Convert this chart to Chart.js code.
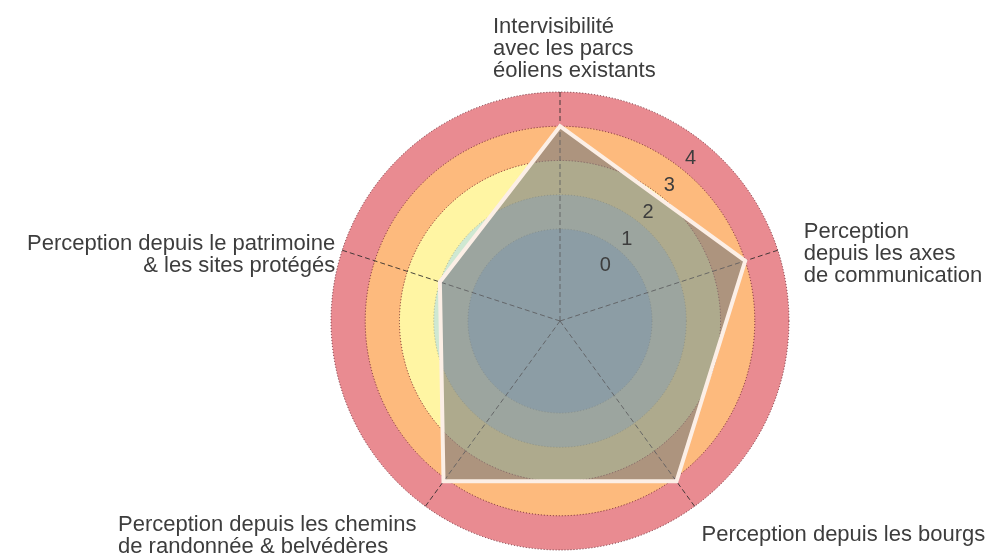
<!DOCTYPE html>
<html><head><meta charset="utf-8">
<script src="https://cdn.jsdelivr.net/npm/chart.js@4.4.1/dist/chart.umd.min.js"></script>
<style>html,body{margin:0;padding:0;background:#fff;overflow:hidden}</style>
</head><body>
<canvas id="c" width="989" height="558"></canvas>
<script>
// ---- data ----
const categories = [
  ['Intervisibilité', 'avec les parcs', 'éoliens existants'],
  ['Perception', 'depuis les axes', 'de communication'],
  ['Perception depuis les bourgs'],
  ['Perception depuis les chemins', 'de randonnée & belvédères'],
  ['Perception depuis le patrimoine', '& les sites protégés']
];
const scores = [3.5, 3.5, 3.6, 3.6, 1.5];
const tickLabels = [0, 1, 2, 3, 4];
const bandEdges = [0.5, 1.5, 2.5, 3.5, 4.5];
const scaleMin = -2.19;
const scaleMax = 4.5;

// ---- styles ----
const bandColors = ['#a6d2e2', '#cfe8d2', '#fff5a3', '#fdba7d', '#e98b91'];
const textColor = '#3d3d3d';
const labelFont = '22px "Liberation Sans", Arial, sans-serif';
const tickFont = '20px "Liberation Sans", Arial, sans-serif';
const lineHeight = 22;
const tickAngle = 38.5 * Math.PI / 180;
// label placement relative to each axis end point
const labelLayout = [
  {dx: -67, dy: -59, mode: 'left'},
  {dx: 26, dy: -12, mode: 'left'},
  {dx: 7, dy: 35, mode: 'left'},
  {dx: -9, dy: 25, mode: 'blockRight'},
  {dx: -7, dy: 0, mode: 'right'}
];

const bandsPlugin = {
  id: 'bands',
  beforeDraw(chart) {
    const s = chart.scales.r, ctx = chart.ctx;
    ctx.save();
    for (let i = bandEdges.length - 1; i >= 0; i--) {
      ctx.beginPath();
      ctx.arc(s.xCenter, s.yCenter, s.getDistanceFromCenterForValue(bandEdges[i]), 0, Math.PI * 2);
      ctx.fillStyle = bandColors[i];
      ctx.fill();
    }
    ctx.restore();
  },
  afterDraw(chart) {
    const s = chart.scales.r, ctx = chart.ctx;
    ctx.save();
    ctx.fillStyle = textColor;
    // tick labels
    ctx.font = tickFont;
    ctx.textAlign = 'center';
    ctx.textBaseline = 'middle';
    tickLabels.forEach(v => {
      const p = s.getPointPosition(0, s.getDistanceFromCenterForValue(v) - 2, tickAngle);
      ctx.fillText(String(v), p.x, p.y + 2);
    });
    // axis labels
    ctx.font = labelFont;
    ctx.textBaseline = 'alphabetic';
    categories.forEach((lines, i) => {
      const a = s.getPointPosition(i, s.drawingArea);
      const L = labelLayout[i];
      const w = Math.max(...lines.map(t => ctx.measureText(t).width));
      lines.forEach((t, k) => {
        const y = a.y + L.dy + k * lineHeight;
        if (L.mode === 'right') { ctx.textAlign = 'right'; ctx.fillText(t, a.x + L.dx, y); }
        else if (L.mode === 'blockRight') { ctx.textAlign = 'left'; ctx.fillText(t, a.x + L.dx - w, y); }
        else { ctx.textAlign = 'left'; ctx.fillText(t, a.x + L.dx, y); }
      });
    });
    ctx.restore();
  }
};

new Chart(document.getElementById('c'), {
  type: 'radar',
  data: {
    labels: categories,
    datasets: [{
      data: scores,
      backgroundColor: 'rgba(125,125,128,0.62)',
      borderColor: '#fcefe6',
      borderWidth: 4,
      borderJoinStyle: 'miter',
      pointRadius: 0,
      tension: 0
    }]
  },
  options: {
    responsive: false,
    animation: false,
    devicePixelRatio: 1,
    layout: {padding: {left: 331, right: 200, top: 92, bottom: 8}},
    plugins: {legend: {display: false}, tooltip: {enabled: false}},
    scales: {
      r: {
        min: scaleMin,
        max: scaleMax,
        afterBuildTicks: sc => { sc.ticks = bandEdges.map(v => ({value: v})); },
        ticks: {display: false},
        pointLabels: {display: false},
        grid: {
          circular: true,
          lineWidth: 1,
          color: c => c.index < 2 ? 'rgba(60,70,70,0.35)' : 'rgba(100,30,40,0.9)'
        },
        border: {dash: [1, 2]},
        angleLines: {color: 'rgba(40,40,40,0.85)', lineWidth: 1, borderDash: [5, 3]}
      }
    }
  },
  plugins: [bandsPlugin]
});
</script>
</body></html>
